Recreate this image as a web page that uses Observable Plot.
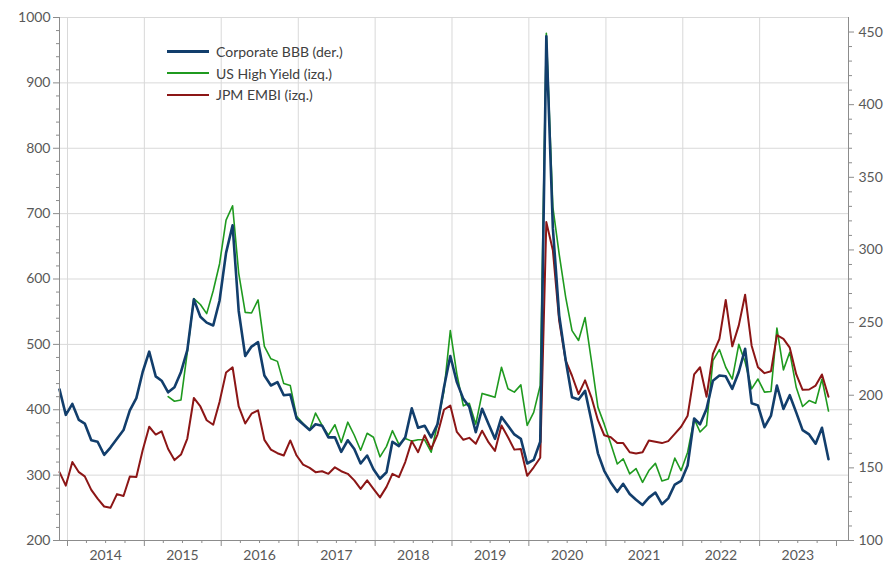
<!DOCTYPE html>
<html><head><meta charset="utf-8">
<script src="https://cdn.jsdelivr.net/npm/d3@7"></script>
<script src="https://cdn.jsdelivr.net/npm/@observablehq/plot@0.6"></script>
<style>
body{margin:0;background:#fff;}
#wrap{position:relative;width:886px;height:564px;font-family:Lato,sans-serif;}
#legend{position:absolute;left:167px;top:41px;font-size:14px;color:#404040;}
.row{display:flex;align-items:center;height:21.5px;white-space:nowrap;}
.sw{width:42px;height:0;margin-right:7px;}
</style></head><body><div id="wrap"><div id="legend"></div></div>
<script>
// Monthly observations, first point late Nov 2013
const startYear = 2013, startMonth = 10, startDay = 24;

// Corporate BBB (der.) - right axis
const bbb = [
204,186.5,194,183,180.5,169,168,159,164,170,
176,189.5,198,216,230,213,210,202,205.5,216,
231,266,254,250,248,265,298,317,258,227,
233.5,236.5,213.6,206.7,209,200,200.5,184,180,176,
180,179,171,171,161,169,163,153,158.5,149,
142.5,147,168,165,171,191,177.6,179,171,180,
205.5,227,209,197.5,192,174.5,190.7,180,170,185,
179,173,170,153,155.5,168,447,315,255,224,
198.6,197,203,182.6,160,148,140,133.5,139,132,
128,124.5,129.5,133,125,129,138.5,141,151.6,184,
180,190.6,210,213.6,213,204.4,216,232,194.5,193,
178,186,206.7,190.6,200,188,176,173,166.6,177.6,
156];

// US High Yield (izq.) - left axis
const hy = [
null,null,null,null,null,null,null,null,null,null,
null,null,null,null,null,null,null,420,413,415,
488,570,561,547,582,623,690,712,609,549,
548,568,497,478,474,440,437,390,379,369,
395,376,361,377,350,381,361,338,364,358,
328,344,368,347,356,352,354,354,335,378,
429,521,455,406,410,378,425,422,419,465,
432,427,438,376,396,437,976,710,638,572,
521,506,541,475,404,378,348,317,325,302,
310,289,307,318,291,294,326,307,335,386,
366,376,475,492,465,447,500,473,432,447,
427,428,525,461,488,434,405,414,410,447,
398];

// JPM EMBI (izq.) - left axis
const embi = [
304.5,284,320,304.5,298,277.5,264,252,250,271,
268,298,297,338,374,362,367,340,323,331.5,
356,418,405,384,377,412,457,465,405,379,
394,399,354,339,333.5,330,353,330,316,311,
304.5,306,302,312,306,302,292,279,292,279,
266,282,302,297,320,352,335,361,340,362,
400,406.5,366,354,357,348,368,350,337,376,
358,339,340,299,312,326.5,687,644,536,475,
452,424,445,419,384,361,358,349,349,335,
333,335,353,351,349,352,363,374,391,454,
465,420,485.5,508.5,568,497,529,576,498,465,
456,459,514,508.5,495,454,430.5,431,437,454,
420];

const years = [2014,2015,2016,2017,2018,2019,2020,2021,2022,2023];
const leftTicks = [200,300,400,500,600,700,800,900,1000];
const rightTicks = [100,150,200,250,300,350,400,450];
const seriesNames = ["Corporate BBB (der.)", "US High Yield (izq.)", "JPM EMBI (izq.)"];
const seriesColors = ["#123e6c", "#1f9a1f", "#8c1616"];
const seriesWidths = [2.6, 1.6, 2];

const leftDomain = [200, 1000], rightDomain = [100, 460];
const toL = r => leftDomain[0] + (r - rightDomain[0]) * (leftDomain[1]-leftDomain[0]) / (rightDomain[1]-rightDomain[0]);
const toR = l => rightDomain[0] + (l - leftDomain[0]) * (rightDomain[1]-rightDomain[0]) / (leftDomain[1]-leftDomain[0]);

const dateAt = i => new Date(Date.UTC(startYear, startMonth + i, startDay));
const rowsOf = (arr, conv) => arr.map((v, i) => ({date: dateAt(i), v: v == null ? null : conv(v)})).filter(d => d.v != null);
const bbbRows = rowsOf(bbb, toL);
const hyRows = rowsOf(hy, v => v);
const embiRows = rowsOf(embi, v => v);

const yearStart = y => new Date(Date.UTC(y, 0, 1));
const yearMid = y => new Date(Date.UTC(y, 6, 1));
const bounds = years.map(yearStart);
const boundsAll = [...bounds, yearStart(years[years.length-1] + 1)];
const quarters = [];
for (const y of years) for (const m of [3, 6, 9]) quarters.push(new Date(Date.UTC(y, m, 1)));
const leftMinor = d3.range(220, 1000, 20).filter(v => v % 100 !== 0);
const rightMinor = d3.range(110, 460, 10).filter(v => v % 50 !== 0).map(toL);

const axisStroke = "#8c8c8c", textFill = "#595959", gridStroke = "#d9d9d9";

const chart = Plot.plot({
  width: 886, height: 564,
  marginLeft: 59, marginRight: 38, marginTop: 17, marginBottom: 24,
  style: {fontFamily: "Lato, sans-serif", fontSize: "14px", background: "white"},
  x: {type: "utc", domain: [new Date(Date.UTC(2013, 10, 24)), new Date(Date.UTC(2024, 1, 27))], axis: null, label: null},
  y: {domain: leftDomain, axis: null, label: null},
  marks: [
    Plot.gridY(leftTicks.slice(1), {stroke: gridStroke, strokeOpacity: 1}),
    Plot.gridX(bounds, {stroke: gridStroke, strokeOpacity: 1}),
    Plot.line(hyRows, {x: "date", y: "v", stroke: seriesColors[1], strokeWidth: seriesWidths[1]}),
    Plot.line(embiRows, {x: "date", y: "v", stroke: seriesColors[2], strokeWidth: seriesWidths[2]}),
    Plot.line(bbbRows, {x: "date", y: "v", stroke: seriesColors[0], strokeWidth: seriesWidths[0]}),
    Plot.axisY(leftTicks, {anchor: "left", tickSize: 6, tickPadding: 3, stroke: axisStroke, fill: textFill, label: null, fontSize: 14, tickFormat: d => String(d)}),
    Plot.axisY(leftMinor, {anchor: "left", tickSize: 3, stroke: axisStroke, fill: "none", label: null}),
    Plot.axisY(rightTicks.map(toL), {anchor: "right", tickSize: 5, tickPadding: 5, stroke: axisStroke, fill: textFill, label: null, fontSize: 14, tickFormat: d => String(Math.round(toR(d)))}),
    Plot.axisY(rightMinor, {anchor: "right", tickSize: 3, stroke: axisStroke, fill: "none", label: null}),
    Plot.axisX(boundsAll, {anchor: "bottom", tickSize: 6, stroke: axisStroke, fill: "none", label: null}),
    Plot.axisX(quarters, {anchor: "bottom", tickSize: 3, stroke: axisStroke, fill: "none", label: null}),
    Plot.axisX(years.map(yearMid), {anchor: "bottom", tickSize: 0, tickPadding: 10, fill: textFill, label: null, fontSize: 14, tickFormat: d => String(d.getUTCFullYear())}),
    Plot.frame({anchor: "left", stroke: axisStroke}),
    Plot.frame({anchor: "right", stroke: axisStroke}),
    Plot.frame({anchor: "bottom", stroke: axisStroke})
  ]
});
document.getElementById("wrap").prepend(chart);

const legend = document.getElementById("legend");
seriesNames.forEach((name, k) => {
  const row = document.createElement("div");
  row.className = "row";
  const sw = document.createElement("div");
  sw.className = "sw";
  sw.style.borderTop = `${k === 0 ? 3 : 2.2}px solid ${seriesColors[k]}`;
  const t = document.createElement("span");
  t.textContent = name;
  row.append(sw, t);
  legend.append(row);
});
</script>
</body></html>
